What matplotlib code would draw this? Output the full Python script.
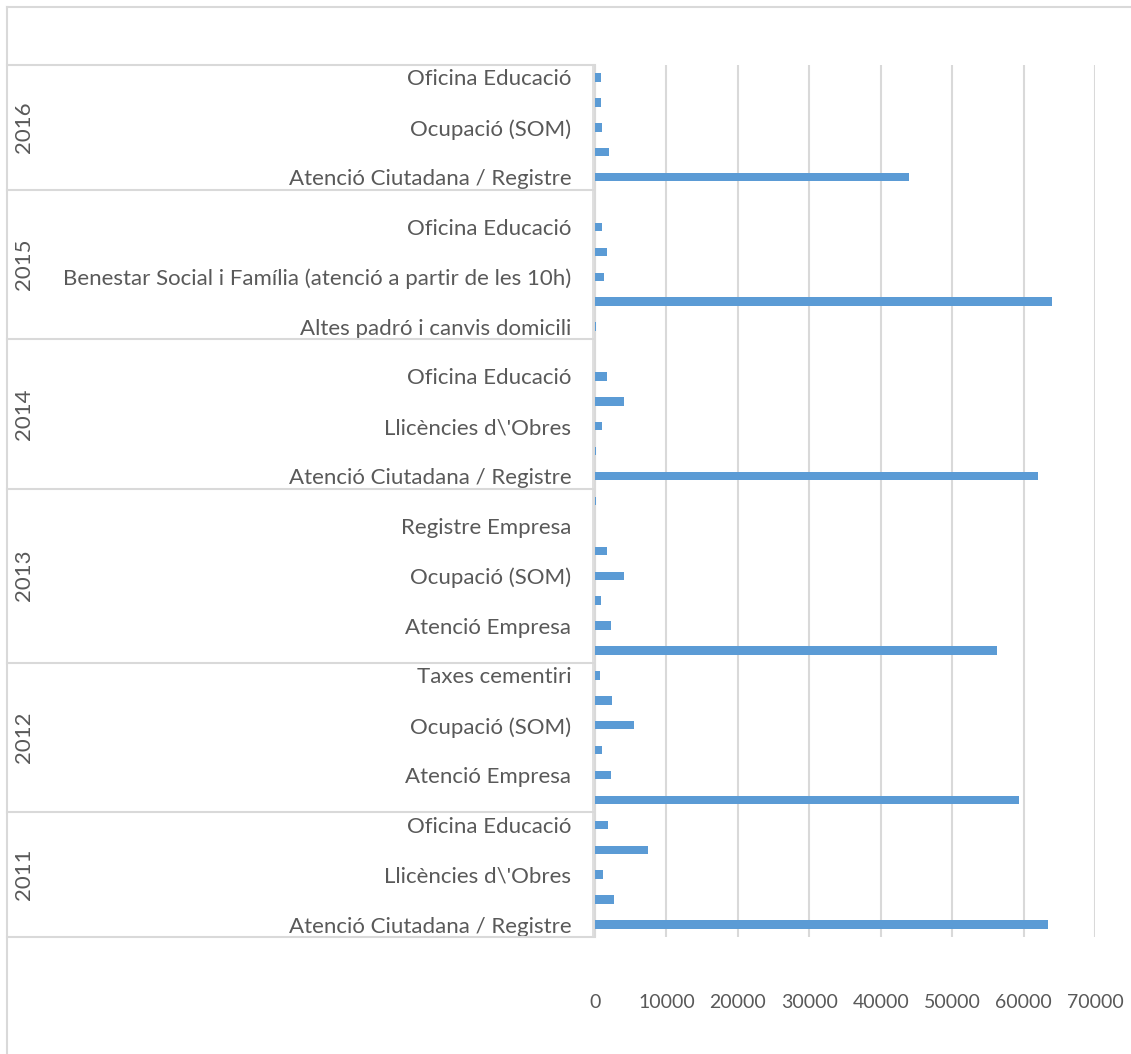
import matplotlib
matplotlib.use("Agg")
import matplotlib.pyplot as plt
from matplotlib.transforms import blended_transform_factory

plt.rcParams['font.family'] = ['Lato', 'DejaVu Sans']

# serveis per any, de baix a dalt dins de cada any
years = ["2011", "2012", "2013", "2014", "2015", "2016"]

cats_2011 = ["Atenció Ciutadana / Registre", "Benestar Social i Família",
             "Llicències d\\'Obres", "Ocupació (SOM)", "Oficina Educació"]
vals_2011 = [63400, 2650, 1070, 7350, 1800]

cats_2012 = ["Atenció Ciutadana / Registre", "Atenció Empresa", "Llicències d\\'Obres",
             "Ocupació (SOM)", "Oficina Educació", "Taxes cementiri"]
vals_2012 = [59300, 2190, 930, 5400, 2420, 700]

cats_2013 = ["Atenció Ciutadana / Registre", "Atenció Empresa", "Llicències d\\'Obres",
             "Ocupació (SOM)", "Oficina Educació", "Registre Empresa", "Taxes cementiri"]
vals_2013 = [56300, 2190, 890, 4000, 1630, 0, 90]

cats_2014 = ["Atenció Ciutadana / Registre", "Altes padró i canvis domicili",
             "Llicències d\\'Obres", "Ocupació (SOM)", "Oficina Educació", "Registre Empresa"]
vals_2014 = [62000, 80, 1030, 4000, 1730, 0]

cats_2015 = ["Altes padró i canvis domicili", "Atenció Ciutadana / Registre",
             "Benestar Social i Família (atenció a partir de les 10h)",
             "Ocupació (SOM)", "Oficina Educació", "Registre Empresa"]
vals_2015 = [80, 64000, 1220, 1730, 930, 0]

cats_2016 = ["Atenció Ciutadana / Registre",
             "Benestar Social i Família (atenció a partir de les 10h)",
             "Ocupació (SOM)", "Llicències d\\'Obres", "Oficina Educació"]
vals_2016 = [44000, 1950, 950, 850, 800]

groups = [(cats_2011, vals_2011), (cats_2012, vals_2012), (cats_2013, vals_2013),
          (cats_2014, vals_2014), (cats_2015, vals_2015), (cats_2016, vals_2016)]

labels = []
values = []
bounds = [0]
for cats, vals in groups:
    labels += cats
    values += vals
    bounds.append(bounds[-1] + len(cats))

W, H = 1131, 1054
fig = plt.figure(figsize=(W / 100, H / 100), dpi=100)
ax = fig.add_axes([595 / W, 1 - 937 / H, 500 / W, 872 / H])

grid_col = "#d9d9d9"
text_col = "#595959"

pos = list(range(len(values)))
ax.barh(pos, values, height=0.34, color="#5b9bd5", zorder=3)
ax.set_xlim(0, 70000)
ax.set_ylim(-0.5, len(values) - 0.5)

ax.set_xticks(range(0, 70001, 10000))
ax.set_xticklabels([str(v) for v in range(0, 70001, 10000)], fontsize=14, color=text_col)
ax.tick_params(axis="x", length=0, pad=41)
ax.grid(axis="x", color=grid_col, linewidth=1.5, zorder=0)

# només una etiqueta de cada dues, com fa l'Excel
ax.set_yticks(pos[::2])
ax.set_yticklabels(labels[::2], fontsize=16, color=text_col)
ax.tick_params(axis="y", length=0, pad=17)

for side in ["top", "right", "bottom"]:
    ax.spines[side].set_visible(False)
ax.spines["left"].set_color(grid_col)
ax.spines["left"].set_linewidth(1.5)

# caixes de l'eix de categories
tr = blended_transform_factory(fig.transFigure, ax.transData)
for b in bounds:
    ax.plot([7 / W, 593 / W], [b - 0.5, b - 0.5], transform=tr, color=grid_col,
            linewidth=1.5, clip_on=False)
ax.plot([593 / W, 593 / W], [-0.5, len(values) - 0.5], transform=tr, color=grid_col,
        linewidth=1.2, clip_on=False)
for i, yr in enumerate(years):
    mid = (bounds[i] + bounds[i + 1] - 1) / 2
    ax.text(24 / W, mid, yr, transform=tr, rotation=90, ha="center", va="center",
            fontsize=16, color=text_col)

# vora de l'àrea del gràfic
fig.add_artist(plt.Line2D([7 / W, 1], [1 - 7 / H, 1 - 7 / H], color=grid_col, linewidth=1.5))
fig.add_artist(plt.Line2D([7 / W, 7 / W], [0, 1 - 7 / H], color=grid_col, linewidth=1.5))

fig.savefig("out.png", dpi=100)
